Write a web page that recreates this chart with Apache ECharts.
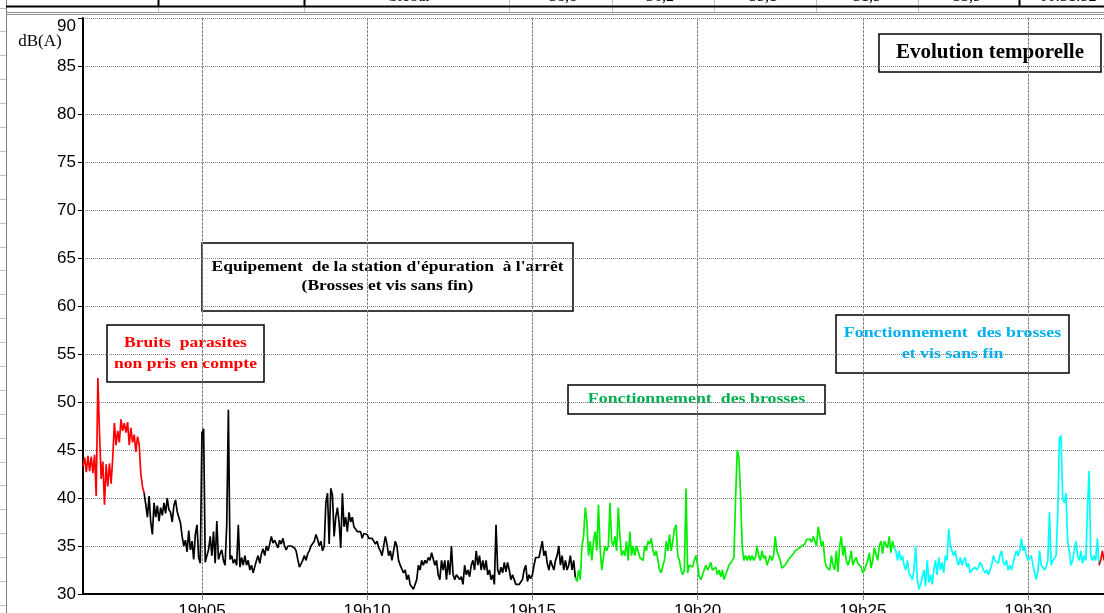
<!DOCTYPE html>
<html>
<head>
<meta charset="utf-8">
<script src="https://cdn.jsdelivr.net/npm/echarts@6/dist/echarts.min.js"></script>
<style>
  html, body { margin: 0; padding: 0; background: #ffffff; }
  #chart { width: 1104px; height: 613px; }
</style>
</head>
<body>
<div id="chart"></div>
<script>
// Sound level record, one LAeq value every 3 s, starting at 19h01:24
const START_S = 84;      // seconds after 19h00
const STEP_S = 3;

// Bruits parasites (début)
const parasitesDebut = [
  43.3,44.2,42.7,44.4,42.8,44.3,42.6,44.5,40.2,52.5,
  46.8,42,43.8,39.3,43.5,41.2,43.6,41.5,44.2,47.8,
  45.5,47,45.8,48.2,47,47.8,46.8,47.9,45.5,47.3,
  45.8,46.6,44.8,46.4,45.6,42.5,41.2,40.5
];

// Equipement à l'arrêt
const arret = [
  39.3,38.0,40.2,37.5,36.2,39.5,38,39.2,37.6,39,
  38.2,39.5,38.4,40,38.8,38.5,37.5,39.2,39.8,38.6,
  38,37.4,36,35,35.6,34.4,36.6,34.6,35.5,33.6,
  36.2,37.2,33.8,33.2,46.8,47.2,33.3,34,34.6,36,
  34,36.5,33.2,37.6,33.6,34.2,34.6,33.5,33,37.2,
  49.2,33.6,34,33.2,33.6,33,37.2,32.8,33.8,33,
  34,33,33.5,32.5,33,32.2,32,33.5,34,33.2,
  34.2,34.7,34,35,34.5,35.2,36,35.3,35.6,35.5,
  34.8,35.6,35.2,35.8,35,34.6,35,35.2,35,35.2,
  34.8,34.5,33.6,32.8,
  32.6,33.5,34,33.5,34.2,34.5,35,35.2,35.5,36.2,
  35.7,35,35.5,34.5,35,39.5,40.5,35.2,41,40.3,
  36,38,39,37.5,34.8,40.5,37,38,36.5,38.5,
  37.5,38,37,37.2,36.5,36.3,36.5,35.8,36.3,36.1,
  36.2,35.8,36,35.8,35.5,35.2,35.5,34.8,34.5,34,
  35,36,35.2,34,34.5,33.5,34.5,35.5,35,33.5,
  33,32.8,32.2,32.5,31.5,32,31,30.8,30.5,30.5,
  31.5,33,32.5,33.5,33,33.5,33.2,33.8,33.5,34.3,
  34.5,33,33.5,32,31.5,33.5,32.5,33.5,31.5,33.5,
  32,35,32,31.5,32,31.8,31.5,31.8,31,33,
  32,32.5,31.8,33,33.5,32.5,34.5,33,34,32.5,
  33.5,32.5,33.5,32,32.5,31.5,32,31,37.2,32.5,
  32,32.8,32.2,33.3,32.3,33.3,32.5,31.5,32,31.5,
  31,30.8,31,30.8,31.5,32.5,33,31.3,32,31.6,
  32,33,33.8,34,33.8,34,35.5,34,34.5,33.2,
  32.5,33.5,33,32.5,33.5,34,35,33,34,32.5,
  33.5,32.5,33,34,32.5,33.5,31.7
];

// Fonctionnement des brosses
const brosses = [
  31.3,32.5,31.5,35,36,39,37.5,34,35.5,33.5,
  35.5,36.5,34.5,39.3,34.8,32.5,33.8,35,34.5,35,
  39.5,35.5,35,36,34.5,39,36,34,34.5,34,
  35.5,33.5,36.5,34,35,34,35,34.5,33.8,34,
  33.5,35,34.5,35.5,35.2,35.8,34.5,34,34.5,33.5,
  32.5,32.2,33,33.5,35.5,34.5,36.2,34.5,35.5,36.8,
  37.2,34,33.5,32.5,32,32.5,41,32.2,33,32.8,
  32.8,33.5,34,33,31.8,31.5,31.3,32.5,33,32.5,
  32.8,33.3,32.5,32.3,32.8,32,32.5,31.8,32.5,31.5,
  32,32.5,33,32.8,33.5,33.8,40,45,44.2,40.5,
  35,33.5,34,33.5,34,33.5,34,33.5,33.8,35,
  34,33.5,34.5,33.7,34,33,33.5,34,33.5,34,
  36,34.5,34,33.5,32.7,32.5,33,33.3,33.5,33.8,
  34,34.2,34.5,34.5,34.7,34.5,35,35,35.2,35.7,
  35.5,35.7,35.4,36,35.5,35,37,36.8,35,35.5,
  33.5,32.8,33,32.5,34,33,32.5,34.5,32.3,35,
  36,34,35,33.5,33,33.5,34.5,33,33.5,33.8,
  33.2,33.3,32.8,32.2,32.5,32.3,33.5,34.3,32.7,33.5,
  34.8,35,33.5,35,35.5,34.2,35.5,35.5,34.8,36,
  34.3,35.5,34.8
];

// Fonctionnement des brosses et vis sans fin
const brossesVis = [
  34.5,33.5,34.5,33.5,34,33,32.5,33.5,32.2,32,
  31.5,32.5,35,31.5,30.5,31,31.2,32.5,30.8,33.5,
  31.2,32,31,32.5,33.5,32,33.8,32.5,33.3,32.2,
  34,33.5,36.8,35,35.2,34,34.5,33.5,33,33.8,
  33,33.5,33.8,32.8,33.2,32.2,32.5,32.3,32.8,32.5,
  32.8,33.3,33,32.5,32.2,32.5,32,32.5,33,34,
  33.5,33.5,33.2,34,34.5,33.3,33,33.5,32.5,33,
  32.5,33.2,34,34.5,34,34.5,35.8,34.5,35,34,
  33.5,33.5,34,33,33,31.5,32.3,34.5,33,33.2,
  32.5,32.8,33.5,38.5,33,33.5,33.3,34,38.3,46.2,
  46.5,40,39.5,40.5,35.5,34.5,33,33.5,34.5,35.5,
  34,33.5,34.5,33.2,34,33.5,39,42.8,34,33.5,
  34,33.5,35.8,33
];

// Bruits parasites (fin)
const parasitesFin = [33.5, 34.5, 33.5];

const periods = [
  { name: 'Bruits parasites', values: parasitesDebut, color: '#ff0000' },
  { name: "Equipement à l'arrêt", values: arret, color: '#000000' },
  { name: 'Fonctionnement des brosses', values: brosses, color: '#00ee00' },
  { name: 'Fonctionnement des brosses et vis sans fin', values: brossesVis, color: '#00ffff' },
  { name: 'Bruits parasites (fin)', values: parasitesFin, color: '#ff0000' }
];

const yTicks = { min: 30, max: 90, step: 5 };
const hourLabel = '19h';

// minutes after 19h00 for sample k
const minuteOf = k => (START_S + STEP_S * k) / 60;

let k = 0;
let prev = null;
const series = periods.map(p => {
  const data = [];
  if (prev) data.push(prev);
  p.values.forEach(v => { data.push([minuteOf(k), v]); k++; });
  prev = data[data.length - 1];
  return {
    name: p.name,
    type: 'line',
    data: data,
    showSymbol: false,
    symbol: 'none',
    animation: false,
    lineStyle: { color: p.color, width: 1.7 },
    itemStyle: { color: p.color },
    z: 3
  };
});
const lastMinute = minuteOf(k - 1);

const SERIF = '"Liberation Serif", "Times New Roman", serif';
const SANS = '"Liberation Sans", Arial, sans-serif';

function noteBox(x, y, w, h, text, color, fontSize, scaleX, lineHeight) {
  return {
    type: 'group',
    z: 10,
    children: [
      { type: 'rect', shape: { x: x, y: y, width: w, height: h },
        style: { fill: '#ffffff', stroke: '#000000', lineWidth: 1.5 } },
      { type: 'text', x: x + w / 2, y: y + h / 2, scaleX: scaleX,
        style: { text: text, fill: color, align: 'center', verticalAlign: 'middle',
                 font: 'bold ' + fontSize + 'px ' + SERIF, lineHeight: lineHeight } }
    ]
  };
}

// Spreadsheet frame around the chart
const frame = [];
frame.push({ type: 'line', shape: { x1: 6.5, y1: 0, x2: 6.5, y2: 613 }, style: { stroke: '#808080', lineWidth: 1 } });
for (let y = 7.5; y < 613; y += 23.9) {
  frame.push({ type: 'line', shape: { x1: 0, y1: Math.round(y) + 0.5, x2: 6, y2: Math.round(y) + 0.5 }, style: { stroke: '#c0c0c0', lineWidth: 1 } });
}
[509, 612, 714, 816, 918].forEach(x => {
  frame.push({ type: 'line', shape: { x1: x + 0.5, y1: 0, x2: x + 0.5, y2: 12 }, style: { stroke: '#c0c0c0', lineWidth: 1 } });
});
[158.5, 304.5].forEach(x => {
  frame.push({ type: 'line', shape: { x1: x, y1: 0, x2: x, y2: 6 }, style: { stroke: '#000', lineWidth: 2 } });
  frame.push({ type: 'line', shape: { x1: x, y1: 7, x2: x, y2: 12 }, style: { stroke: '#c0c0c0', lineWidth: 1 } });
});
frame.push({ type: 'line', shape: { x1: 1019.5, y1: 0, x2: 1019.5, y2: 6 }, style: { stroke: '#000', lineWidth: 2 } });
frame.push({ type: 'line', shape: { x1: 6, y1: 6.5, x2: 1104, y2: 6.5 }, style: { stroke: '#000', lineWidth: 2 } });
frame.push({ type: 'line', shape: { x1: 6, y1: 12.5, x2: 1104, y2: 12.5 }, style: { stroke: '#909090', lineWidth: 1 } });
frame.push({ type: 'line', shape: { x1: 6, y1: 14.5, x2: 1104, y2: 14.5 }, style: { stroke: '#909090', lineWidth: 1 } });
const tableRow = [
  ['Global', 408], ['38,8', 563], ['36,2', 660], ['35,1', 763], ['31,5', 867], ['33,5', 967], ['00:31:52', 1068]
];
tableRow.forEach(([t, x]) => {
  frame.push({ type: 'text', x: x, y: -3,
    style: { text: t, fill: '#000', align: 'center', verticalAlign: 'middle', font: '16px ' + SERIF } });
});

const notes = [
  noteBox(879, 34, 222, 38, 'Evolution temporelle', '#000000', 21, 1.0, 22),
  noteBox(202, 243, 371, 68, "Equipement  de la station d'épuration  à l'arrêt\n(Brosses et vis sans fin)", '#000000', 14, 1.25, 19),
  noteBox(107, 325, 157, 57, 'Bruits  parasites\nnon pris en compte', '#ff0000', 15, 1.17, 21),
  noteBox(568, 385, 257, 29, 'Fonctionnement  des brosses', '#00b050', 15, 1.19, 20),
  noteBox(836, 315, 233, 58, 'Fonctionnement  des brosses\net vis sans fin', '#00b0f0', 15, 1.19, 21),
  { type: 'text', x: 40, y: 42, z: 10,
    style: { text: 'dB(A)', fill: '#000', align: 'center', verticalAlign: 'middle', font: '17px ' + SERIF } }
];

const chart = echarts.init(document.getElementById('chart'), null, { renderer: 'canvas' });
chart.setOption({
  backgroundColor: '#ffffff',
  animation: false,
  grid: { left: 83, right: 0, top: 18, bottom: 19, containLabel: false, outerBoundsMode: 'none' },
  xAxis: {
    type: 'value',
    min: minuteOf(0),
    max: lastMinute,
    splitNumber: 6,
    axisLine: { show: true, onZero: false, lineStyle: { color: '#000', width: 2 } },
    axisTick: { show: true, length: 6, lineStyle: { color: '#808080' } },
    axisLabel: {
      show: true, showMinLabel: false, showMaxLabel: false,
      color: '#000', fontFamily: SANS, fontSize: 17, margin: 9,
      formatter: v => hourLabel + (v < 10 ? '0' : '') + Math.round(v)
    },
    splitLine: { show: true, lineStyle: { color: '#808080', width: 1, type: [3, 1] } }
  },
  yAxis: {
    type: 'value',
    min: yTicks.min, max: yTicks.max, interval: yTicks.step,
    axisLine: { show: true, onZero: false, lineStyle: { color: '#000', width: 2 } },
    axisTick: { show: true, length: 5, lineStyle: { color: '#000' } },
    axisLabel: { color: '#000', fontFamily: SANS, fontSize: 17, margin: 7, verticalAlignMaxLabel: 'top' },
    splitLine: { show: true, lineStyle: { color: '#808080', width: 1, type: [1, 1] } }
  },
  series: series,
  graphic: frame.concat(notes)
});
</script>
</body>
</html>
